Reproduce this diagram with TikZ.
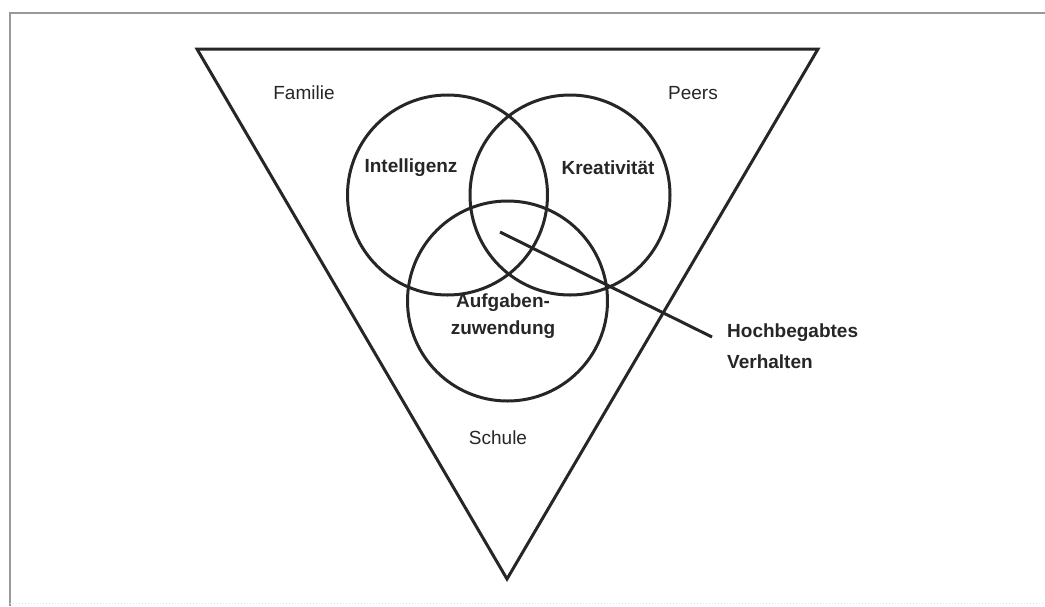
\documentclass[tikz,border=0pt]{standalone}
\usepackage{fontspec}
\setmainfont{Liberation Sans}
\usepackage{tikz}

\begin{document}
\begin{tikzpicture}[
  x=1pt, y=-1pt,
  every node/.style={font=\fontsize{19}{24}\selectfont, inner sep=0pt},
  ring/.style={draw, circle, line width=3pt, minimum size=200pt, black!85},
  strong/.style={font=\fontsize{19}{27}\selectfont\bfseries, text=black!85},
  context/.style={text=black!85}
]

\useasboundingbox (0,0) rectangle (1045,606);

%% ── frame ────────────────────────────────────────────────────────────────────
\draw[gray!80, line width=2pt] (10,606) -- (10,13) -- (1045,13);
\draw[gray!25, line width=1pt, dotted] (10,603) -- (1045,603);

%% ── triangle of contexts ─────────────────────────────────────────────────────
\draw[black!85, line width=3pt, line join=miter]
  (197,49) -- (818,49) -- (507,579) -- cycle;

\node[context] (familie) at (304,93) {Familie};
\node[context] (peers)   at (693,93) {Peers};
\node[context] (schule)  at (498,438) {Schule};

%% ── three rings ──────────────────────────────────────────────────────────────
\node[ring] (intel) at (447.5,195) {};
\node[ring] (kreat) at (570,195) {};
\node[ring] (aufg)  at (507.5,301) {};

\node[strong] (intellabel) at (411,168) {Intelligenz};
\node[strong] (kreatlabel) at (608,168) {Kreativität};
\node[strong, align=center] (aufglabel) at (503,316)
  {Aufgaben-\\zuwendung};

%% ── pointer to the core ──────────────────────────────────────────────────────
\coordinate (core) at (500,232);
\coordinate (tail) at (712,337);
\node[strong, anchor=west] (hoch) at (727,333) {Hochbegabtes};
\node[strong, anchor=west] (verh) at (727,362) {Verhalten};

\draw[black!85, line width=3pt] (core) -- (tail);

\end{tikzpicture}
\end{document}
